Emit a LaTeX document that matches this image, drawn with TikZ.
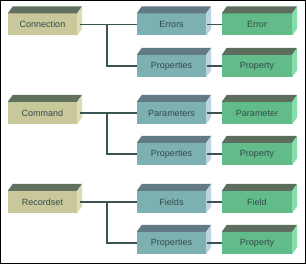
\documentclass[tikz,border=0pt]{standalone}
\usepackage{fontspec}
\setmainfont{Liberation Sans}
\usetikzlibrary{calc}

\definecolor{lfront}{HTML}{C8C89A}
\definecolor{ltop}{HTML}{627060}
\definecolor{lside}{HTML}{DCDCB4}
\definecolor{mfront}{HTML}{7DB0B0}
\definecolor{mtop}{HTML}{627A86}
\definecolor{mside}{HTML}{BCD2DE}
\definecolor{rfront}{HTML}{62BC8A}
\definecolor{rtop}{HTML}{5E6E5E}
\definecolor{rside}{HTML}{84DEAC}
\definecolor{txt}{HTML}{34494A}
\definecolor{wirecol}{HTML}{3A5452}

\tikzset{
  box/.style={minimum width=69pt, minimum height=22pt, inner sep=0pt,
    text=txt, font=\fontsize{9}{10}\selectfont},
  obj/.style={box, fill=lfront},
  coll/.style={box, fill=mfront},
  item/.style={box, fill=rfront, minimum width=70pt},
  wire/.style={draw=wirecol, line width=1.2pt}
}

\begin{document}
\begin{tikzpicture}[x=1pt, y=-1pt]
        \useasboundingbox (0,0) rectangle (306,264);
        \draw[black, line width=1pt] (0.5,0.5) rectangle (305.5,263.5);
        % Objects on the left.
            \node[obj] (con) at (42.5,24.5) {Connection};
            \node[obj] (cmd) at (42.5,113) {Command};
            \node[obj] (rs) at (42.5,202) {Recordset};
        % Collections in the middle.
            \node[coll] (errs) at (171.5,24.5) {Errors};
            \node[coll] (props1) at (171.5,66) {Properties};
            \node[coll] (params) at (171.5,113) {Parameters};
            \node[coll] (props2) at (171.5,154) {Properties};
            \node[coll] (flds) at (171.5,202) {Fields};
            \node[coll] (props3) at (171.5,243) {Properties};
        % Single items on the right.
            \node[item] (err) at (257,24.5) {Error};
            \node[item] (prop1) at (257,66) {Property};
            \node[item] (param) at (257,113) {Parameter};
            \node[item] (prop2) at (257,154) {Property};
            \node[item] (fld) at (257,202) {Field};
            \node[item] (prop3) at (257,243) {Property};
        % Top and side faces of the boxes.
        \foreach \n/\tp/\sd in {con/ltop/lside, cmd/ltop/lside, rs/ltop/lside,
            errs/mtop/mside, props1/mtop/mside, params/mtop/mside,
            props2/mtop/mside, flds/mtop/mside, props3/mtop/mside,
            err/rtop/rside, prop1/rtop/rside, param/rtop/rside,
            prop2/rtop/rside, fld/rtop/rside, prop3/rtop/rside} {
            \fill[\tp] (\n.north west) -- ++(5,-7) -- ($(\n.north east)+(5,-7)$) -- (\n.north east) -- cycle;
            \fill[\sd] (\n.north east) -- ++(5,-7) -- ($(\n.south east)+(5,-7)$) -- (\n.south east) -- cycle;
        }
        % Connectors.
        \foreach \a/\b/\c in {con/errs/props1, cmd/params/props2, rs/flds/props3} {
            \draw[wire] ([xshift=3pt]\a.east) -- (\b.west);
            \draw[wire] ($(\a.east)!.5!(\b.west)$) |- (\c.west);
        }
        \foreach \a/\b in {errs/err, props1/prop1, params/param, props2/prop2, flds/fld, props3/prop3}
            \draw[wire] ([xshift=1pt]\a.east) -- (\b.west);
    \end{tikzpicture}
\end{document}
